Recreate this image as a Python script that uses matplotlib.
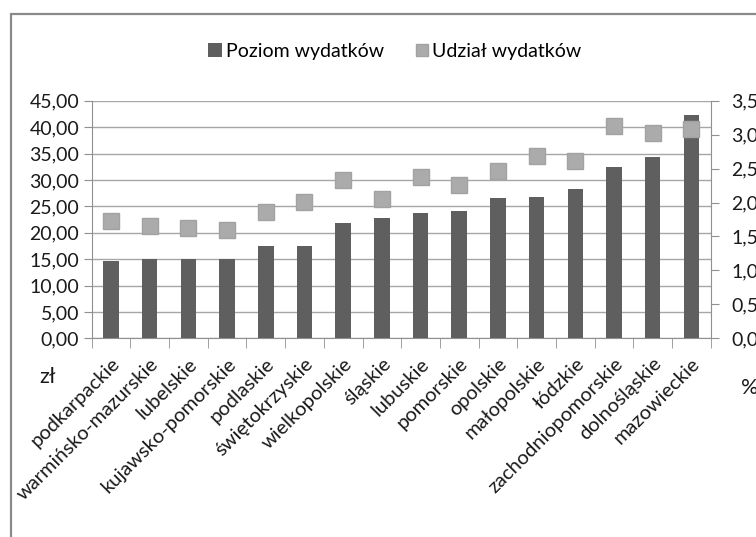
import matplotlib
matplotlib.use("Agg")
import matplotlib.pyplot as plt
from matplotlib.ticker import FuncFormatter, FixedLocator
from matplotlib.patches import Rectangle
import numpy as np

categories = ["podkarpackie", "warmińsko-mazurskie", "lubelskie", "kujawsko-pomorskie",
              "podlaskie", "świętokrzyskie", "wielkopolskie", "śląskie", "lubuskie",
              "pomorskie", "opolskie", "małopolskie", "łódzkie", "zachodniopomorskie",
              "dolnośląskie", "mazowieckie"]
poziom = [14.6, 15.0, 15.0, 15.1, 17.5, 17.5, 21.8, 22.7, 23.8, 24.2, 26.5, 26.7,
          28.3, 32.5, 34.3, 42.2]
udzial = [1.73, 1.66, 1.63, 1.59, 1.86, 2.01, 2.33, 2.05, 2.38, 2.26, 2.46, 2.68,
          2.61, 3.12, 3.02, 3.09]
legend_labels = ["Poziom wydatków", "Udział wydatków"]

plt.rcParams['font.family'] = ['Lato', 'DejaVu Sans']

W, H = 756, 537
fig = plt.figure(figsize=(W / 100, H / 100), dpi=100)

# outer chart frame
fig.patches.append(Rectangle((11 / W, -0.1), 1.2, 1.1 - 14 / H, transform=fig.transFigure,
                             fill=False, edgecolor="#8a8a8a", linewidth=1.6))

ax = fig.add_axes([91.7 / W, 1 - 338.3 / H, (710.7 - 91.7) / W, (338.3 - 100.7) / H])
ax2 = ax.twinx()

x = np.arange(len(categories))
ax.bar(x, poziom, width=0.4, color="#5f5f5f", zorder=3, label=legend_labels[0])
ax2.plot(x, udzial, linestyle="none", marker="s", markersize=11, color="#ababab",
         markeredgecolor="#a2a2a2", zorder=4, label=legend_labels[1])

ax.set_xlim(-0.5, len(categories) - 0.5)
ax.set_ylim(0, 45)
ax2.set_ylim(0, 3.5)
ax.set_yticks(np.arange(0, 45.01, 5))
ax2.set_yticks(np.arange(0, 3.51, 0.5))
ax.yaxis.set_major_formatter(FuncFormatter(lambda v, p: f"{v:.2f}".replace(".", ",")))
ax2.yaxis.set_major_formatter(FuncFormatter(lambda v, p: f"{v:.1f}".replace(".", ",")))
ax.grid(axis="y", color="#a6a6a6", linewidth=1.0, zorder=0)
ax.set_axisbelow(True)

ax.set_xticks(x)
ax.set_xticklabels(categories, rotation=45, ha="right", rotation_mode="anchor",
                   fontsize=14.5, color="#1a1a1a")
ax.tick_params(axis="x", which="major", length=0, pad=12)
ax.xaxis.set_minor_locator(FixedLocator(np.arange(-0.5, len(categories), 1.0)))
ax.tick_params(axis="x", which="minor", length=7, color="#909090")
ax.tick_params(axis="y", length=6, color="#909090", labelsize=14, labelcolor="#1a1a1a", pad=3)
ax2.tick_params(axis="y", length=6, color="#909090", labelsize=14, labelcolor="#1a1a1a", pad=9)

for a in (ax, ax2):
    a.spines["top"].set_visible(False)
    for s in ("left", "right", "bottom"):
        a.spines[s].set_color("#909090")
ax.spines["right"].set_visible(False)
ax2.spines["left"].set_visible(False)
ax2.spines["bottom"].set_visible(False)

fig.text(39 / W, 1 - 377 / H, "zł", fontsize=15.5, ha="left", va="center", color="#1a1a1a")
fig.text(741 / W, 1 - 388 / H, "%", fontsize=15.5, ha="left", va="center", color="#1a1a1a")

h1, l1 = ax.get_legend_handles_labels()
h2, l2 = ax2.get_legend_handles_labels()
fig.legend(h1 + h2, l1 + l2, loc="center", bbox_to_anchor=(395 / W, 1 - 51 / H),
           ncol=2, frameon=False, fontsize=14, handlelength=0.7, handleheight=0.7,
           handletextpad=0.2, columnspacing=1.6, markerscale=0.75)

fig.savefig("out.png", dpi=100)
